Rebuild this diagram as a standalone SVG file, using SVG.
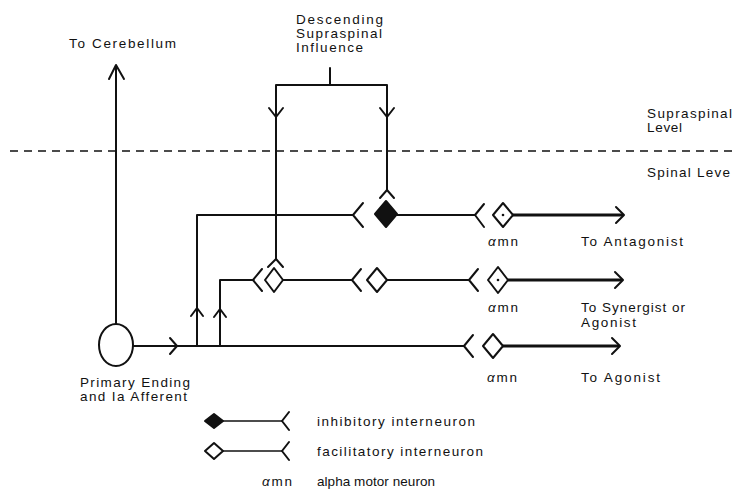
<svg xmlns="http://www.w3.org/2000/svg" width="734" height="490" viewBox="0 0 734 490">
<style>
  .ln{stroke:#111;stroke-width:2;fill:none;stroke-linecap:round;stroke-linejoin:round}
  .th{stroke:#111;stroke-width:3;fill:none}
  .thin{stroke:#111;stroke-width:1.4;fill:none}
  .open{stroke:#111;stroke-width:2;fill:#fff;stroke-linejoin:round}
  .fill{stroke:#111;stroke-width:2;fill:#111;stroke-linejoin:round}
  .dash{stroke:#111;stroke-width:1.6;stroke-dasharray:8 6;fill:none}
  text{font-family:"Liberation Sans",Arial,Helvetica,sans-serif;font-size:13.5px;fill:#111}
  .it{font-style:italic}
</style>
<rect width="734" height="490" fill="#fff"/>

<!-- level divider -->
<line class="dash" x1="10" y1="151" x2="734" y2="151"/>

<g id="connectors">
  <!-- to cerebellum -->
  <line class="ln" x1="116" y1="324" x2="116" y2="66"/>
  <path class="ln" d="M109,79 L116,65 L124,79"/>
  <!-- afferent main line -->
  <line class="ln" x1="133" y1="346" x2="464" y2="346"/>
  <path class="ln" d="M170,338 L177,346 L170,354"/>
  <!-- branch to inhibitory interneuron -->
  <path class="ln" d="M197,346 V215 H353"/>
  <path class="ln" d="M191,316 L197,308 L203,316"/>
  <!-- branch to facilitatory interneuron -->
  <path class="ln" d="M220,346 V280 H253"/>
  <path class="ln" d="M214,317 L220,309 L226,317"/>
  <!-- interneuron chains -->
  <line class="ln" x1="283" y1="280" x2="352" y2="280"/>
  <line class="ln" x1="387" y1="280" x2="469" y2="280"/>
  <line class="ln" x1="397" y1="215" x2="475" y2="215"/>
  <!-- descending supraspinal influence -->
  <line class="ln" x1="330" y1="68" x2="330" y2="85"/>
  <path class="ln" d="M276,259 V85 H387 V190"/>
  <path class="ln" d="M269,108 L276,117 L283,108"/>
  <path class="ln" d="M380,108 L387,117 L394,108"/>
  <!-- motor outputs -->
  <line class="th" x1="513" y1="215" x2="623" y2="215"/>
  <path class="ln" d="M616,207 L624,215 L616,223"/>
  <line class="th" x1="508" y1="280" x2="622" y2="280"/>
  <path class="ln" d="M615,272 L623,280 L615,288"/>
  <line class="th" x1="503" y1="346" x2="619" y2="346"/>
  <path class="ln" d="M612,338 L620,346 L612,354"/>
</g>

<g id="primary-ending">
  <ellipse class="open" cx="116" cy="345" rx="17" ry="21"/>
  <text x="80" y="387" textLength="110" lengthAdjust="spacing">Primary Ending</text>
  <text x="80" y="401" textLength="107" lengthAdjust="spacing">and Ia Afferent</text>
</g>

<g id="inhibitory-interneuron">
  <path class="ln" d="M363,203 L353,215 L363,227"/>
  <path class="ln" d="M380,198 L387,190 L394,198"/>
  <polygon class="fill" points="386,201 397,214 386,227 375,214"/>
</g>

<g id="facilitatory-interneuron-1">
  <path class="ln" d="M262,269 L253,280 L262,291"/>
  <path class="ln" d="M268,267 L276,259 L283,267"/>
  <polygon class="open" points="274,268 283,280 274,292 265,280"/>
</g>

<g id="facilitatory-interneuron-2">
  <path class="ln" d="M361,269 L352,280 L361,291"/>
  <polygon class="open" points="377,268 387,280 377,292 367,280"/>
</g>

<g id="amn-antagonist">
  <path class="ln" d="M484,204 L475,215 L484,227"/>
  <polygon class="open" points="503,203 513,215 503,227 493,215"/>
  <circle cx="503" cy="215" r="1.3" fill="#111"/>
  <text x="488" y="246" textLength="30" lengthAdjust="spacing"><tspan class="it">α</tspan>mn</text>
  <text x="581" y="246" textLength="102" lengthAdjust="spacing">To Antagonist</text>
</g>

<g id="amn-synergist">
  <path class="ln" d="M478,269 L469,280 L478,291"/>
  <polygon class="open" points="498,267 508,280 498,293 488,280"/>
  <circle cx="498" cy="280" r="1.3" fill="#111"/>
  <text x="488" y="312" textLength="30" lengthAdjust="spacing"><tspan class="it">α</tspan>mn</text>
  <text x="581" y="312" textLength="104" lengthAdjust="spacing">To Synergist or</text>
  <text x="581" y="327" textLength="55" lengthAdjust="spacing">Agonist</text>
</g>

<g id="amn-agonist">
  <path class="ln" d="M473,335 L464,346 L473,357"/>
  <polygon class="open" points="493,334 503,346 493,358 483,346"/>
  <text x="487" y="382" textLength="30" lengthAdjust="spacing"><tspan class="it">α</tspan>mn</text>
  <text x="581" y="382" textLength="79" lengthAdjust="spacing">To Agonist</text>
</g>

<g id="labels">
  <text x="69" y="48" textLength="107" lengthAdjust="spacing">To Cerebellum</text>
  <text x="296" y="24" textLength="87" lengthAdjust="spacing">Descending</text>
  <text x="296" y="38" textLength="86" lengthAdjust="spacing">Supraspinal</text>
  <text x="296" y="52" textLength="67" lengthAdjust="spacing">Influence</text>
  <text x="647" y="118" textLength="85" lengthAdjust="spacing">Supraspinal</text>
  <text x="647" y="132" textLength="35" lengthAdjust="spacing">Level</text>
  <text x="647" y="177" textLength="83" lengthAdjust="spacing">Spinal Leve</text>
</g>

<g id="legend">
  <g id="legend-inhibitory">
    <polygon class="fill" points="214,414 223,421 214,428 205,421"/>
    <line class="thin" x1="223" y1="421" x2="282" y2="421"/>
    <path class="ln" d="M289,412 L282,421 L289,430"/>
    <text x="317" y="426" textLength="158" lengthAdjust="spacing">inhibitory interneuron</text>
  </g>
  <g id="legend-facilitatory">
    <polygon class="open" points="214,443 223,451 214,459 205,451"/>
    <line class="thin" x1="223" y1="451" x2="282" y2="451"/>
    <path class="ln" d="M289,442 L282,451 L289,460"/>
    <text x="317" y="456" textLength="166" lengthAdjust="spacing">facilitatory interneuron</text>
  </g>
  <g id="legend-amn">
    <text x="262" y="486" textLength="30" lengthAdjust="spacing"><tspan class="it">α</tspan>mn</text>
    <text x="317" y="486" textLength="118" lengthAdjust="spacing">alpha motor neuron</text>
  </g>
</g>
</svg>
